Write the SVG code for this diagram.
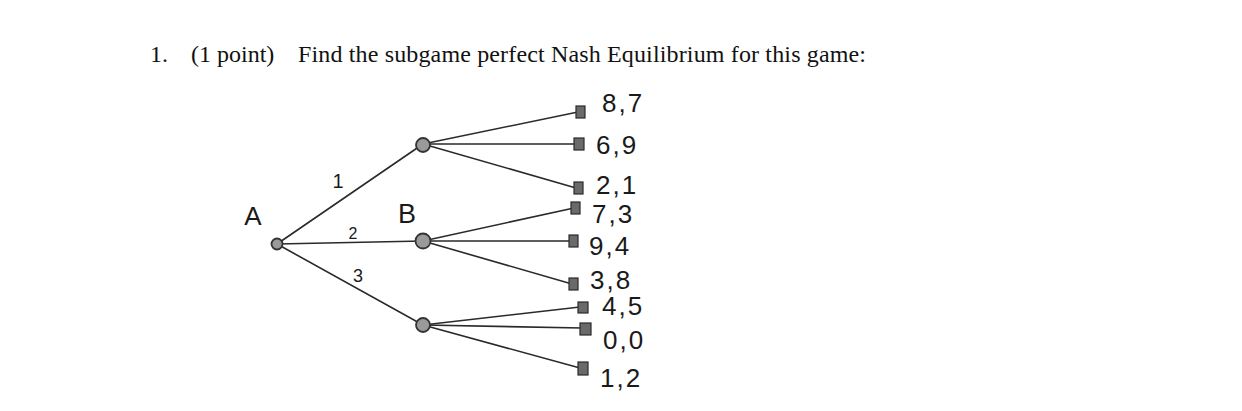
<svg xmlns="http://www.w3.org/2000/svg" width="1242" height="411" viewBox="0 0 1242 411">
<defs>
<style>
.title{font-family:"Liberation Serif","Times New Roman",serif;font-size:24px;fill:#111}
.hand{font-family:"Liberation Sans",Arial,sans-serif;font-size:26px;fill:#1a1a1a;letter-spacing:2px}
.lbl{font-family:"Liberation Sans",Arial,sans-serif;fill:#1a1a1a}
.edge{stroke:#2a2a2a;stroke-width:1.6;fill:none;stroke-linecap:round}
.node{fill:#9a9a9a;stroke:#333;stroke-width:1.8}
.term{fill:#6a6a6a;stroke:#2a2a2a;stroke-width:1.2}
</style>
</defs>
<rect width="1242" height="411" fill="#fff"/>
<g id="title">
<text class="title" x="150" y="62">1.</text>
<text class="title" x="191" y="62">(1 point)</text>
<text class="title" x="298" y="62" textLength="568">Find the subgame perfect Nash Equilibrium for this game:</text>
</g>
<g id="connectors">
<line class="edge" x1="277" y1="244" x2="423" y2="144"/>
<line class="edge" x1="277" y1="244" x2="423" y2="241"/>
<line class="edge" x1="277" y1="244" x2="423" y2="325"/>
<line class="edge" x1="423" y1="144" x2="578" y2="112"/>
<line class="edge" x1="423" y1="144" x2="576" y2="144"/>
<line class="edge" x1="423" y1="144" x2="576" y2="188"/>
<line class="edge" x1="423" y1="241" x2="574" y2="208"/>
<line class="edge" x1="423" y1="241" x2="572" y2="241"/>
<line class="edge" x1="423" y1="241" x2="572" y2="284"/>
<line class="edge" x1="423" y1="325" x2="580" y2="307"/>
<line class="edge" x1="423" y1="325" x2="582" y2="328"/>
<line class="edge" x1="423" y1="325" x2="580" y2="368"/>
</g>
<g id="edge-labels">
<text class="lbl" x="338" y="188" font-size="20" text-anchor="middle">1</text>
<text class="lbl" x="353" y="239" font-size="16" text-anchor="middle">2</text>
<text class="lbl" x="358" y="282" font-size="18" text-anchor="middle">3</text>
</g>
<g id="node-A">
<circle class="node" cx="277" cy="244" r="5.5"/>
<text class="lbl" x="253" y="225" font-size="26" text-anchor="middle">A</text>
</g>
<g id="node-B1">
<circle class="node" cx="423" cy="145" r="7"/>
</g>
<g id="node-B2">
<circle class="node" cx="423" cy="241" r="7.5"/>
<text class="lbl" x="407" y="223" font-size="27" text-anchor="middle">B</text>
</g>
<g id="node-B3">
<circle class="node" cx="423" cy="325" r="7"/>
</g>
<g id="payoff-8-7"><rect class="term" x="576" y="106" width="9" height="12"/><text class="hand" x="602" y="112">8,7</text></g>
<g id="payoff-6-9"><rect class="term" x="574" y="138" width="10" height="12"/><text class="hand" x="596" y="154">6,9</text></g>
<g id="payoff-2-1"><rect class="term" x="574" y="182" width="9" height="12"/><text class="hand" x="596" y="194">2,1</text></g>
<g id="payoff-7-3"><rect class="term" x="571" y="202" width="9" height="12"/><text class="hand" x="592" y="223">7,3</text></g>
<g id="payoff-9-4"><rect class="term" x="569" y="235" width="9" height="12"/><text class="hand" x="589" y="255">9,4</text></g>
<g id="payoff-3-8"><rect class="term" x="569" y="278" width="9" height="12"/><text class="hand" x="590" y="289">3,8</text></g>
<g id="payoff-4-5"><rect class="term" x="578" y="302" width="10" height="11"/><text class="hand" x="602" y="315">4,5</text></g>
<g id="payoff-0-0"><rect class="term" x="580" y="323" width="11" height="12"/><text class="hand" x="603" y="349">0,0</text></g>
<g id="payoff-1-2"><rect class="term" x="578" y="362" width="10" height="13"/><text class="hand" x="600" y="387">1,2</text></g>
</svg>
